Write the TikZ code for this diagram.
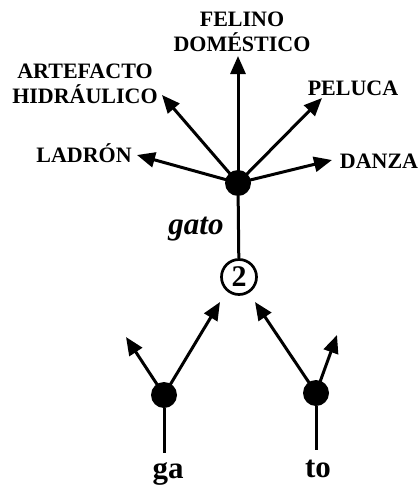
\documentclass[tikz,border=0pt]{standalone}
\usepackage{fontspec}
\setmainfont{Liberation Serif}
\usetikzlibrary{arrows.meta}
\begin{document}
\begin{tikzpicture}[x=1pt,y=-1pt,
  dotnode/.style={circle,fill=black,inner sep=0pt,minimum size=26pt},
  lbl/.style={font=\fontsize{22}{24.5}\selectfont\bfseries,align=center,inner sep=0pt},
  big/.style={font=\fontsize{31}{33}\selectfont\bfseries,inner sep=0pt},
  arr/.style={line width=3pt,-{Triangle[length=18pt,width=15pt]}},
  ln/.style={line width=3pt}]
\useasboundingbox (0,0) rectangle (418,495);
\node[dotnode] (hub) at (238,183) {};
\node[circle,draw,line width=2.7pt,minimum size=35pt,inner sep=0pt] (two) at (239,277) {\fontsize{30}{32}\selectfont\textbf{2}};
\node[dotnode] (ga) at (164,395) {};
\node[dotnode] (to) at (316,393) {};
\coordinate (tF) at (238,56);
\coordinate (tA) at (162,95);
\coordinate (tP) at (322,98);
\coordinate (tL) at (137,155);
\coordinate (tD) at (332,160);
\coordinate (gaL) at (126,337);
\coordinate (ga2) at (220,302);
\coordinate (to2) at (255,302);
\coordinate (toR) at (337,335);
\coordinate (gaB) at (164,453);
\coordinate (toB) at (316,450);
\node[lbl] (felino) at (242,32) {FELINO\\DOMÉSTICO};
\node[lbl] (artef) at (85,84) {ARTEFACTO\\HIDRÁULICO};
\node[lbl] (peluca) at (353,88) {PELUCA};
\node[lbl] (ladron) at (84,153) {LADRÓN};
\node[lbl] (danza) at (379,161) {DANZA};
\node[font=\fontsize{31}{33}\selectfont\bfseries\itshape,inner sep=0pt] (gato) at (196,229) {gato};
\node[big] (gatext) at (168,474) {ga};
\node[big] (totext) at (318,469) {to};
\draw[arr] (hub.center) -- (tF);
\draw[arr] (hub.center) -- (tA);
\draw[arr] (hub.center) -- (tP);
\draw[arr] (hub.center) -- (tL);
\draw[arr] (hub.center) -- (tD);
\draw[ln] (hub) -- (two);
\draw[arr] (ga.center) -- (gaL);
\draw[arr] (ga.center) -- (ga2);
\draw[arr] (to.center) -- (to2);
\draw[arr] (to.center) -- (toR);
\draw[ln] (ga) -- (gaB);
\draw[ln] (to) -- (toB);
\end{tikzpicture}
\end{document}
